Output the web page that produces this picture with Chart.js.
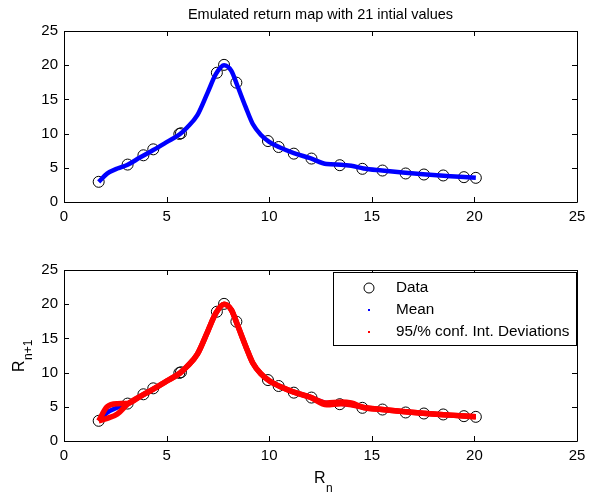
<!DOCTYPE html>
<html>
<head>
<meta charset="utf-8">
<script src="https://cdn.jsdelivr.net/npm/chart.js@4.4.0/dist/chart.umd.min.js"></script>
<style>
    html, body { margin: 0; padding: 0; background: #fff; }
    #wrap { position: relative; width: 597px; height: 496px; }
    .panel { position: absolute; left: 0; width: 597px; height: 248px; }
</style>
</head>
<body>
<div id="wrap">
    <div class="panel" style="top:0"><canvas id="topChart" width="597" height="248"></canvas></div>
    <div class="panel" style="top:248px"><canvas id="bottomChart" width="597" height="248"></canvas></div>
</div>
<script>
// observed points (R_n, R_n+1)
const dataX = [1.69, 3.10, 3.87, 4.35, 5.62, 5.70, 7.45, 7.80, 8.40, 9.94, 10.46,
               11.2, 12.06, 13.44, 14.54, 15.52, 16.65, 17.54, 18.48, 19.49, 20.07];
const dataY = [2.95, 5.47, 6.83, 7.70, 9.95, 10.05, 18.9, 20.05, 17.45, 8.91, 8.04,
               7.07, 6.35, 5.38, 4.85, 4.60, 4.17, 4.02, 3.88, 3.63, 3.53];

// emulator mean and 95% band, on one grid
const gridX = [1.69, 2.1, 2.6, 3.1, 3.7, 4.35, 5.0, 5.64, 6.0, 6.5, 7.0, 7.4, 7.8, 8.15, 8.45, 8.85,
               9.2, 9.6, 10.0, 10.5, 11.2, 12.0, 12.8, 13.5, 14.0, 14.6, 15.5, 16.5, 17.5, 18.5, 19.5, 20.07];
const meanY = [2.95, 4.15, 4.9, 5.45, 6.5, 7.6, 8.75, 9.9, 10.9, 12.7, 16.0, 18.7, 20.0, 19.2, 17.0, 13.9,
               11.4, 9.8, 8.8, 8.0, 7.15, 6.4, 5.55, 5.45, 5.3, 4.9, 4.6, 4.3, 4.05, 3.85, 3.65, 3.55];
const upperY = [2.95, 5.0, 5.45, 5.5, 6.5, 7.6, 8.75, 9.9, 10.9, 12.7, 16.0, 18.7, 20.0, 19.2, 17.0, 13.9,
                11.4, 9.8, 8.8, 8.0, 7.15, 6.4, 5.55, 5.7, 5.55, 4.9, 4.6, 4.3, 4.05, 3.85, 3.65, 3.55];
const lowerY = [2.95, 3.3, 3.95, 5.4, 6.5, 7.6, 8.75, 9.9, 10.9, 12.7, 16.0, 18.7, 20.0, 19.2, 17.0, 13.9,
                11.4, 9.8, 8.8, 8.0, 7.15, 6.4, 5.3, 5.45, 5.3, 4.9, 4.6, 4.3, 4.05, 3.85, 3.65, 3.55];

const axisTicks = [0, 5, 10, 15, 20, 25];
const titleText = 'Emulated return map with 21 intial values';
const legendLabels = ['Data', 'Mean', '95/% conf. Int. Deviations'];

const FONT = "'Liberation Sans', Arial, sans-serif";

function pts(xs, ys) {
    return xs.map((x, i) => ({x: x, y: ys[i]}));
}

// box round the axes with inward tick marks, like matlab
const boxTicks = {
    id: 'boxTicks',
    afterDraw(chart) {
        const ctx = chart.ctx;
        const a = chart.chartArea;
        const sx = chart.scales.x, sy = chart.scales.y;
        ctx.save();
        ctx.strokeStyle = '#000';
        ctx.lineWidth = 1;
        ctx.beginPath();
        ctx.rect(Math.round(a.left) + 0.5, Math.round(a.top) + 0.5, Math.round(a.width), Math.round(a.height));
        axisTicks.forEach(v => {
            const px = Math.round(sx.getPixelForValue(v)) + 0.5;
            ctx.moveTo(px, a.bottom); ctx.lineTo(px, a.bottom - 5);
            ctx.moveTo(px, a.top); ctx.lineTo(px, a.top + 5);
            const py = Math.round(sy.getPixelForValue(v)) + 0.5;
            ctx.moveTo(a.left, py); ctx.lineTo(a.left + 5, py);
            ctx.moveTo(a.right, py); ctx.lineTo(a.right - 5, py);
        });
        ctx.stroke();
        ctx.restore();
    }
};

// title centred over the axes, not the canvas
const axesTitle = {
    id: 'axesTitle',
    afterDraw(chart) {
        const t = chart.options.plugins.axesTitle;
        if (!t || !t.text) return;
        const a = chart.chartArea;
        const ctx = chart.ctx;
        ctx.save();
        ctx.fillStyle = '#000';
        ctx.font = '14.5px ' + FONT;
        ctx.textAlign = 'center';
        ctx.textBaseline = 'alphabetic';
        ctx.fillText(t.text, (a.left + a.right) / 2, 18.5);
        ctx.restore();
    }
};

// legend box inside the lower axes
const boxLegend = {
    id: 'boxLegend',
    afterDraw(chart) {
        if (!chart.options.plugins.boxLegend || !chart.options.plugins.boxLegend.show) return;
        const ctx = chart.ctx;
        const a = chart.chartArea;
        const L = 333, R = a.right - 1, T = a.top + 2, B = a.top + 75;
        ctx.save();
        ctx.fillStyle = '#fff';
        ctx.fillRect(L, T, R - L, B - T);
        ctx.strokeStyle = '#000';
        ctx.lineWidth = 1;
        ctx.strokeRect(L + 0.5, T + 0.5, R - L, B - T);
        ctx.font = '15.3px ' + FONT;
        ctx.textBaseline = 'middle';
        ctx.fillStyle = '#000';
        const rows = [T + 16, T + 38, T + 60];
        ctx.beginPath();
        ctx.arc(369, rows[0], 5, 0, Math.PI * 2);
        ctx.stroke();
        ctx.fillStyle = '#0000ff';
        ctx.fillRect(368, rows[1] - 1, 2, 2);
        ctx.fillStyle = '#ff0000';
        ctx.fillRect(368, rows[2] - 1, 2, 2);
        ctx.fillStyle = '#000';
        legendLabels.forEach((t, i) => ctx.fillText(t, 396, rows[i]));
        ctx.restore();
    }
};

// R_n and R_n+1 labels with subscripts
const subLabels = {
    id: 'subLabels',
    afterDraw(chart) {
        if (!chart.options.plugins.subLabels || !chart.options.plugins.subLabels.show) return;
        const ctx = chart.ctx;
        ctx.save();
        ctx.fillStyle = '#000';
        ctx.textBaseline = 'alphabetic';
        // x label
        ctx.font = '16px ' + FONT;
        ctx.fillText('R', 314, 235);
        ctx.font = '12px ' + FONT;
        ctx.fillText('n', 326, 244);
        // y label
        ctx.translate(24, 124);
        ctx.rotate(-Math.PI / 2);
        ctx.font = '16px ' + FONT;
        ctx.fillText('R', 0, 0);
        ctx.font = '12px ' + FONT;
        ctx.fillText('n+1', 12, 8);
        ctx.restore();
    }
};

function makeScales(bottomH) {
    const tickFont = {size: 15, family: FONT};
    return {
        x: {
            type: 'linear', min: 0, max: 25,
            afterBuildTicks: s => { s.ticks = axisTicks.map(v => ({value: v})); },
            afterFit: s => { s.height = bottomH; },
            grid: {display: false, drawTicks: false},
            border: {display: false},
            ticks: {color: '#000', font: tickFont, padding: 6, maxRotation: 0}
        },
        y: {
            type: 'linear', min: 0, max: 25,
            afterBuildTicks: s => { s.ticks = axisTicks.map(v => ({value: v})); },
            afterFit: s => { s.width = 64; },
            grid: {display: false, drawTicks: false},
            border: {display: false},
            ticks: {color: '#000', font: tickFont, padding: 6}
        }
    };
}

const circleSet = () => ({
    label: 'Data',
    data: pts(dataX, dataY),
    showLine: false,
    pointStyle: 'circle',
    pointRadius: 5.5,
    pointBorderWidth: 1,
    pointBorderColor: '#000',
    pointBackgroundColor: 'rgba(0,0,0,0)',
    order: 3
});

const meanSet = () => ({
    label: 'Mean',
    data: pts(gridX, meanY),
    showLine: true,
    borderColor: '#0000ff',
    borderWidth: 4.5,
    pointRadius: 0,
    cubicInterpolationMode: 'monotone',
    order: 2
});

new Chart(document.getElementById('topChart'), {
    type: 'scatter',
    data: {datasets: [circleSet(), meanSet()]},
    options: {
        responsive: false,
        animation: false,
        layout: {padding: {left: 0, right: 20, top: 31, bottom: 0}},
        scales: makeScales(46),
        plugins: {
            legend: {display: false},
            tooltip: {enabled: false},
            axesTitle: {text: titleText}
        }
    },
    plugins: [boxTicks, axesTitle]
});

new Chart(document.getElementById('bottomChart'), {
    type: 'scatter',
    data: {
        datasets: [
            circleSet(),
            meanSet(),
            {
                label: '95/% conf. Int. Deviations',
                data: pts(gridX, upperY),
                showLine: true,
                borderColor: '#ff0000',
                borderWidth: 5.5,
                pointRadius: 0,
                cubicInterpolationMode: 'monotone',
                order: 1
            },
            {
                label: '95/% conf. Int. Deviations (lower)',
                data: pts(gridX, lowerY),
                showLine: true,
                borderColor: '#ff0000',
                borderWidth: 5.5,
                pointRadius: 0,
                cubicInterpolationMode: 'monotone',
                order: 1
            }
        ]
    },
    options: {
        responsive: false,
        animation: false,
        layout: {padding: {left: 0, right: 20, top: 22, bottom: 0}},
        scales: makeScales(55),
        plugins: {
            legend: {display: false},
            tooltip: {enabled: false},
            boxLegend: {show: true},
            subLabels: {show: true}
        }
    },
    plugins: [boxTicks, boxLegend, subLabels]
});
</script>
</body>
</html>
